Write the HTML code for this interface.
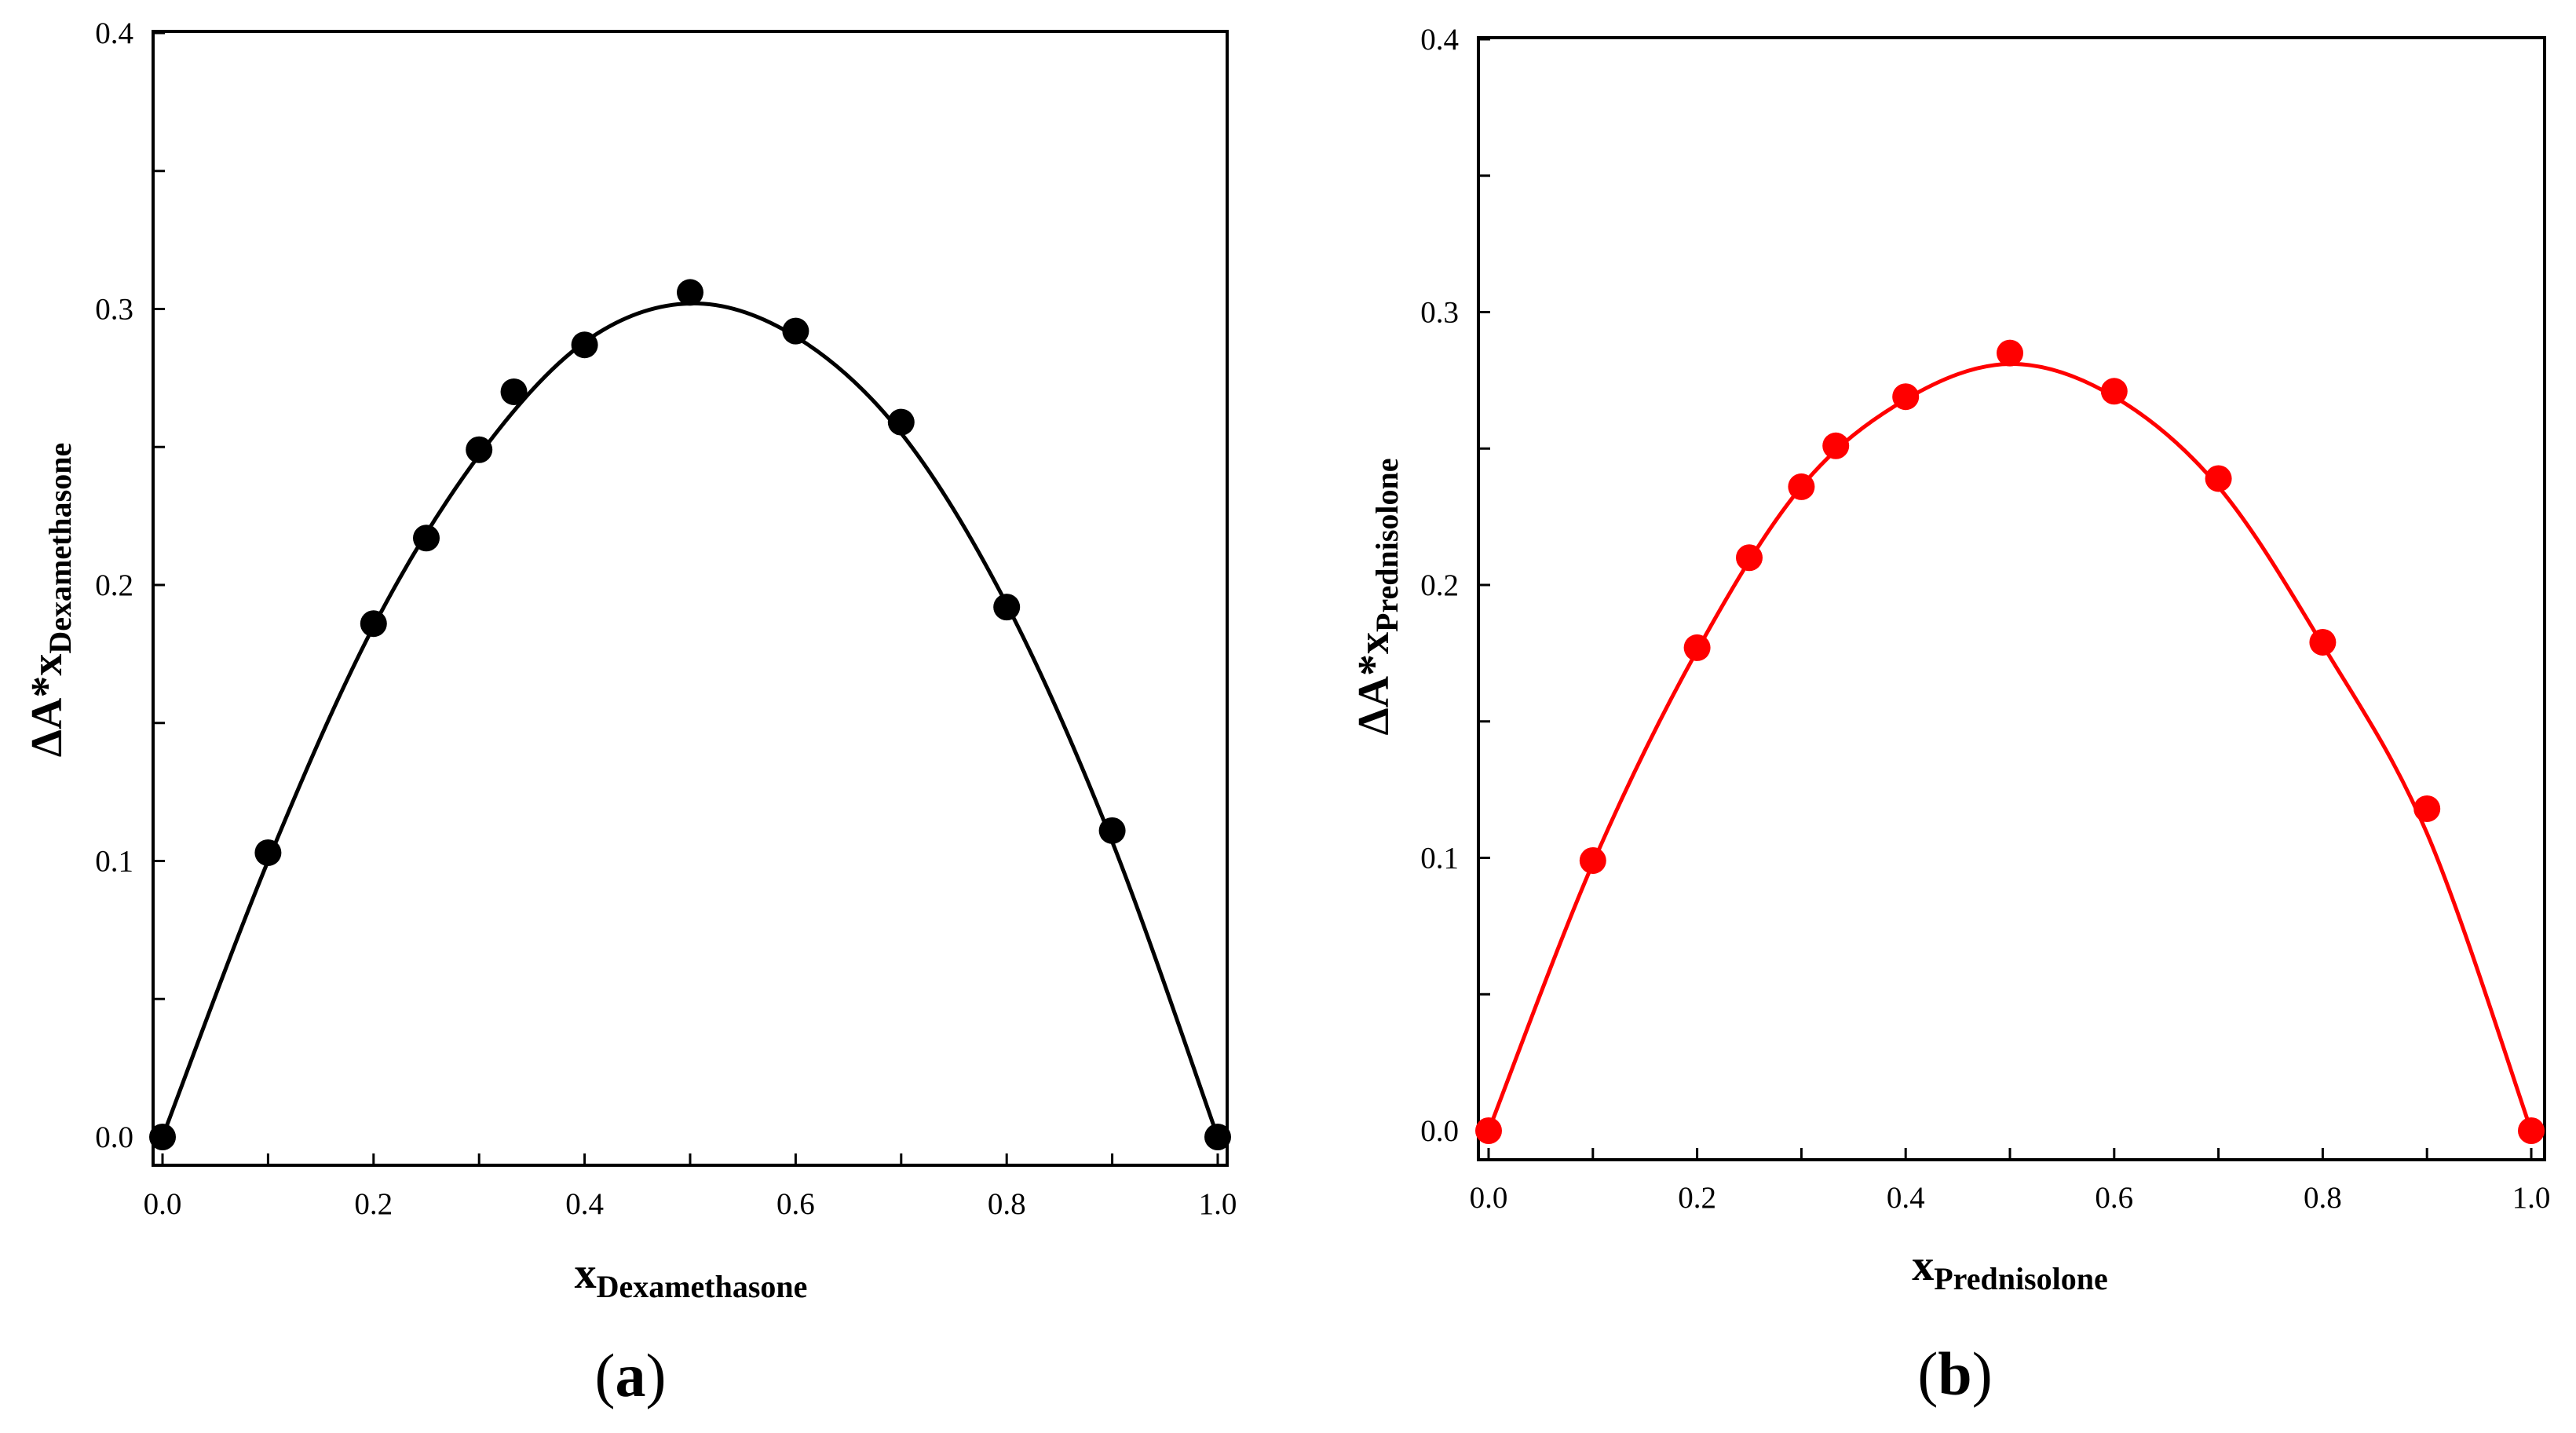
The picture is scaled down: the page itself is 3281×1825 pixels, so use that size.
<!DOCTYPE html>
<html><head><meta charset="utf-8"><style>
html,body{margin:0;padding:0;background:#fff;}
svg{display:block;}
text{font-family:"Liberation Serif",serif;fill:#000;}
</style></head><body>
<svg id="fig" width="3281" height="1825" viewBox="0 0 3281 1825" xmlns="http://www.w3.org/2000/svg"></svg>
<script>
const xCats = [0, 0.1, 0.2, 0.25, 0.3, 0.333, 0.4, 0.5, 0.6, 0.7, 0.8, 0.9, 1.0];
const dexValues = [0, 0.103, 0.186, 0.217, 0.249, 0.270, 0.287, 0.306, 0.292, 0.259, 0.192, 0.111, 0];
const predValues = [0, 0.099, 0.177, 0.210, 0.236, 0.251, 0.269, 0.285, 0.271, 0.239, 0.179, 0.118, 0];
const fitX = [0, 0.1, 0.2, 0.3, 0.4, 0.5, 0.6, 0.7, 0.8, 0.9, 1.0];
const dexFit = [0, 0.100, 0.185, 0.247, 0.288, 0.302, 0.290, 0.255, 0.193, 0.107, 0];
const predFit = [0, 0.098, 0.176, 0.236, 0.268, 0.281, 0.269, 0.236, 0.178, 0.109, 0];
const xTickLabels = ["0.0","0.2","0.4","0.6","0.8","1.0"];
const yTickLabels = ["0.0","0.1","0.2","0.3","0.4"];

const NS = "http://www.w3.org/2000/svg";
const svg = document.getElementById('fig');
function mk(tag, attrs, parent){
  const e = document.createElementNS(NS, tag);
  for (const k in attrs) e.setAttribute(k, attrs[k]);
  (parent||svg).appendChild(e);
  return e;
}

function panel(cfg){
  const g = mk('g', {});
  
  
  const X = v => cfg.x0 + (cfg.x1 - cfg.x0) * v;
  const Y = v => cfg.y0 + (cfg.y4 - cfg.y0) * (v / 0.4);
  const frame = mk('rect', {x:cfg.fl, y:cfg.ft, width:cfg.fr-cfg.fl, height:cfg.fb-cfg.ft, fill:'none', stroke:'#000', 'stroke-width':4}, g);
  
  
  for (let i = 0; i <= 10; i++) {
    const t = mk('line', {x1:X(i/10), x2:X(i/10), y1:cfg.fb, y2:cfg.fb-15, stroke:'#000', 'stroke-width':3}, g);
    
    
  }
  xTickLabels.forEach((lab, i) => {
    const t = mk('text', {x:X(i*0.2), y:cfg.xLabY, 'font-size':39, 'text-anchor':'middle'}, g);
    t.textContent = lab;
    
    
  });
  for (let i = 0; i <= 8; i++) {
    const t = mk('line', {x1:cfg.fl, x2:cfg.fl+15, y1:Y(i*0.05), y2:Y(i*0.05), stroke:'#000', 'stroke-width':3}, g);
    
    
  }
  yTickLabels.forEach((lab, i) => {
    const t = mk('text', {x:cfg.yLabX, y:Y(i*0.1)+13, 'font-size':39, 'text-anchor':'end'}, g);
    t.textContent = lab;
    
    
  });
  const pts = cfg.fitX.map((v,i)=>[X(v), Y(cfg.fit[i])]);
  let d = 'M' + pts[0][0] + ',' + pts[0][1];
  for (let i = 0; i < pts.length-1; i++) {
    const p0 = pts[Math.max(0,i-1)], p1 = pts[i], p2 = pts[i+1], p3 = pts[Math.min(pts.length-1,i+2)];
    const c1 = [p1[0]+(p2[0]-p0[0])/6, p1[1]+(p2[1]-p0[1])/6];
    const c2 = [p2[0]-(p3[0]-p1[0])/6, p2[1]-(p3[1]-p1[1])/6];
    d += ' C' + c1 + ' ' + c2 + ' ' + p2;
  }
  const c = mk('path', {d:d, fill:'none', stroke:cfg.color, 'stroke-width':5}, g);
  
  
  cfg.xs.forEach((v,i) => {
    const p = mk('circle', {cx:X(v), cy:Y(cfg.vals[i]), r:17, fill:cfg.color}, g);
    
    
  });
  const xt = mk('text', {x:cfg.xTitleX, y:cfg.xTitleY, 'font-size':56, 'font-weight':'bold', 'text-anchor':'middle'}, g);
  xt.innerHTML = 'x<tspan font-size="40" dy="12">' + cfg.sub + '</tspan>';
  
  
  const yt = mk('text', {x:0, y:0, 'font-size':56, 'font-weight':'bold', 'text-anchor':'middle', transform:'translate('+cfg.yTitleX+','+cfg.yTitleY+') rotate(-90)'}, g);
  yt.innerHTML = 'ΔA*x<tspan font-size="40" dy="12">' + cfg.sub + '</tspan>';
  
  
  const pl = mk('text', {x:cfg.pX, y:cfg.pY, 'font-size':78, 'text-anchor':'middle'}, g);
  pl.innerHTML = '(<tspan font-weight="bold">' + cfg.letter + '</tspan>)';
  
  
}

panel({name:'panel-a', fl:195, ft:40, fr:1563, fb:1484, x0:207, x1:1551, y0:1448, y4:42,
  xs:xCats, vals:dexValues, fitX:fitX, fit:dexFit, color:'#000', sub:'Dexamethasone',
  xLabY:1546, yLabX:170, xTitleX:880, xTitleY:1640, yTitleX:78, yTitleY:764, pX:803, pY:1778, letter:'a'});
panel({name:'panel-b', fl:1883, ft:48, fr:3241, fb:1477, x0:1896, x1:3224, y0:1440, y4:50,
  xs:xCats, vals:predValues, fitX:fitX, fit:predFit, color:'#ff0000', sub:'Prednisolone',
  xLabY:1538, yLabX:1858, xTitleX:2560, xTitleY:1630, yTitleX:1768, yTitleY:760, pX:2490, pY:1776, letter:'b'});
</script>
</body></html>
